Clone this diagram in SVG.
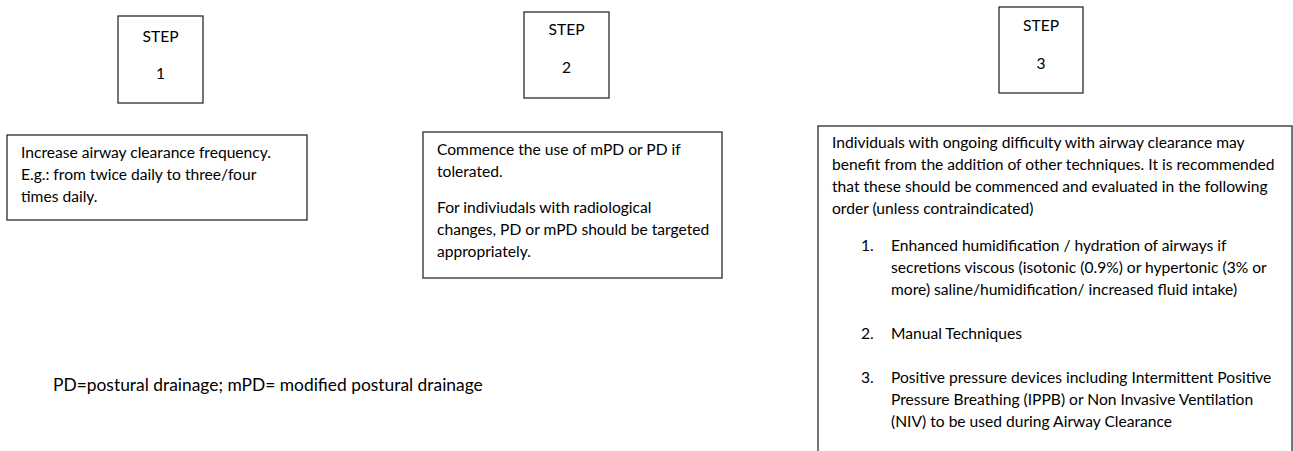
<svg xmlns="http://www.w3.org/2000/svg" width="1293" height="451" viewBox="0 0 1293 451">
<style>
rect.b{fill:#fff;stroke:#2b2b2b;stroke-width:1.3}
text{font-family:Lato,"Open Sans",sans-serif;font-size:15.6px;fill:#000}
.c{text-anchor:middle}
.fn{font-size:17.4px}
</style>
<rect width="1293" height="451" fill="#fff"/>
<g id="step1">
<rect class="b" x="118" y="16" width="85" height="87"/>
<text class="c" x="160.5" y="41.5">STEP</text>
<text class="c" x="160.5" y="78.5">1</text>
</g>
<g id="step2">
<rect class="b" x="524" y="12" width="85" height="86"/>
<text class="c" x="566.5" y="35">STEP</text>
<text class="c" x="566.5" y="73">2</text>
</g>
<g id="step3">
<rect class="b" x="999" y="7" width="84" height="86"/>
<text class="c" x="1041" y="31">STEP</text>
<text class="c" x="1041" y="68.5">3</text>
</g>
<g id="box1">
<rect class="b" x="7" y="135" width="300" height="85"/>
<text x="21" y="158">Increase airway clearance frequency.</text>
<text x="21" y="180">E.g.: from twice daily to three/four</text>
<text x="21" y="202">times daily.</text>
</g>
<g id="box2">
<rect class="b" x="423" y="132" width="299" height="146"/>
<text x="437" y="155">Commence the use of mPD or PD if</text>
<text x="437" y="177">tolerated.</text>
<text x="437" y="213">For indiviudals with radiological</text>
<text x="437" y="235">changes, PD or mPD should be targeted</text>
<text x="437" y="257">appropriately.</text>
</g>
<g id="box3">
<rect class="b" x="818" y="126" width="474" height="340"/>
<text x="832" y="148">Individuals with ongoing difficulty with airway clearance may</text>
<text x="832" y="170">benefit from the addition of other techniques. It is recommended</text>
<text x="832" y="192">that these should be commenced and evaluated in the following</text>
<text x="832" y="214">order (unless contraindicated)</text>
<text x="861" y="251">1.</text>
<text x="891" y="251">Enhanced humidification / hydration of airways if</text>
<text x="891" y="273">secretions viscous (isotonic (0.9%) or hypertonic (3% or</text>
<text x="891" y="295">more) saline/humidification/ increased fluid intake)</text>
<text x="861" y="339">2.</text>
<text x="891" y="339">Manual Techniques</text>
<text x="861" y="383">3.</text>
<text x="891" y="383">Positive pressure devices including Intermittent Positive</text>
<text x="891" y="405">Pressure Breathing (IPPB) or Non Invasive Ventilation</text>
<text x="891" y="427">(NIV) to be used during Airway Clearance</text>
</g>
<g id="connectors"></g>
<g id="legend">
<text class="fn" x="53" y="391">PD=postural drainage; mPD= modified postural drainage</text>
</g>
</svg>
